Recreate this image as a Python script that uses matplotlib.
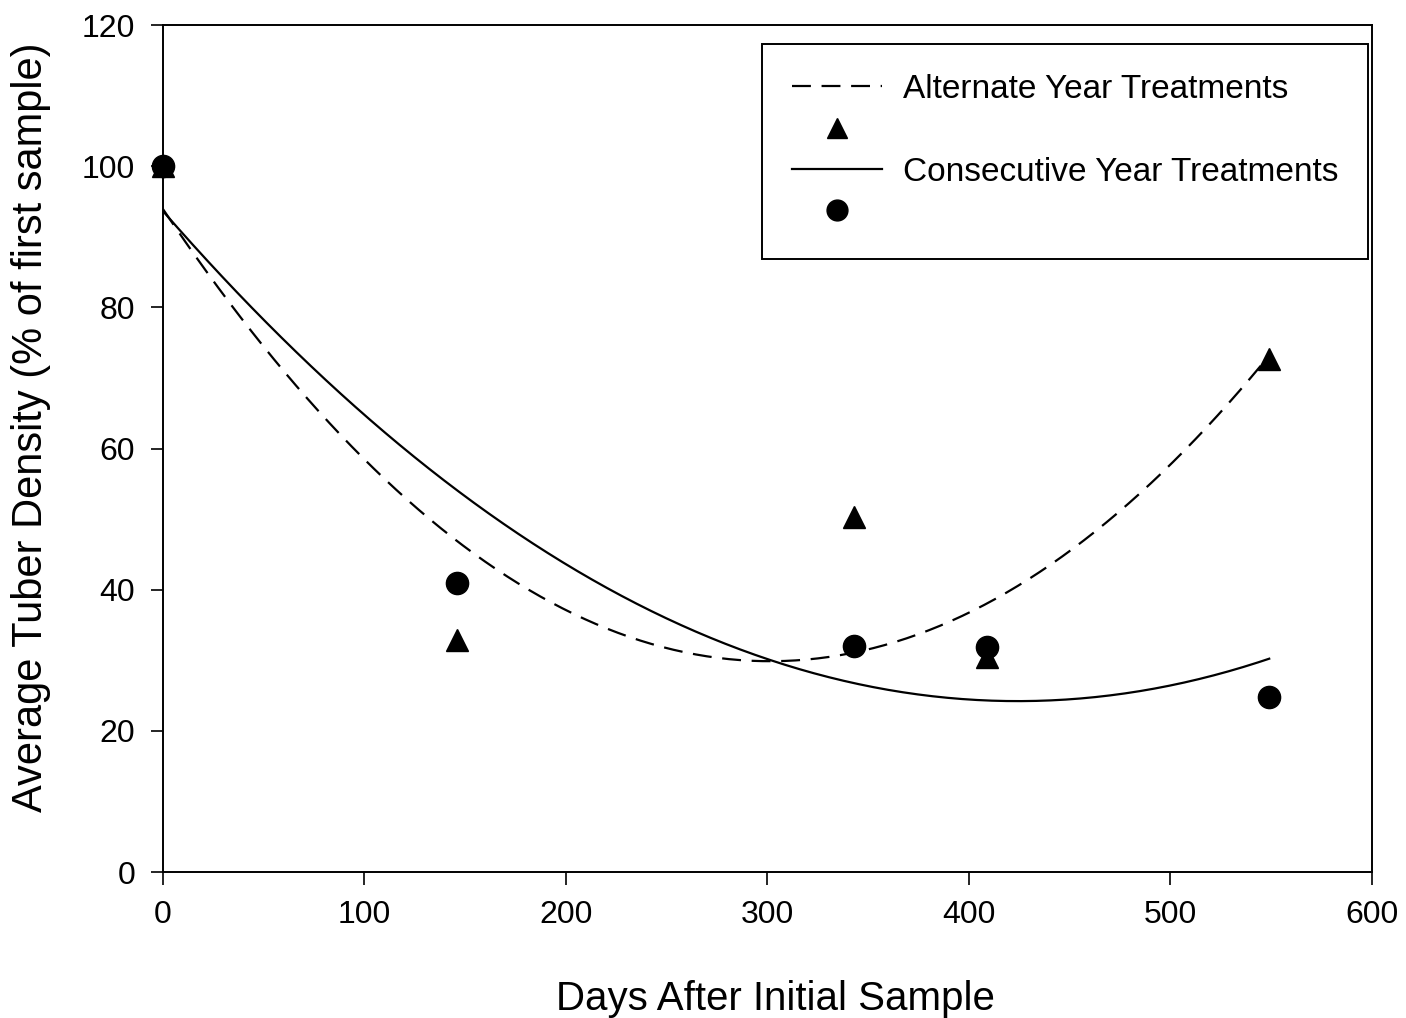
import numpy as np
import matplotlib
matplotlib.use("Agg")
import matplotlib.pyplot as plt
from matplotlib.lines import Line2D

plt.rcParams['font.family'] = ['Liberation Sans', 'DejaVu Sans']

# sampling days and mean densities (% of first sample)
days = [0, 146, 343, 409, 549]
alternate = [100, 32.9, 50.3, 30.5, 72.7]
consecutive = [100, 40.9, 32.0, 31.9, 24.8]

# points
alt_fit_x = [0, 117.6, 241.7, 291.3, 365.8, 458.4, 549]
alt_fit_y = [94.0, 53.9, 31.5, 30.0, 33.1, 48.0, 72.7]
con_fit_x = [0, 117.6, 302.9, 365.8, 431.9, 549]
con_fit_y = [94.0, 59.8, 30.0, 25.8, 24.4, 30.0]

xticks = [0, 100, 200, 300, 400, 500, 600]
yticks = [0, 20, 40, 60, 80, 100, 120]

fig = plt.figure(figsize=(14.06, 10.18), dpi=100)
ax = fig.add_axes([0.1159, 0.1434, 0.8599, 0.832])

xs = np.linspace(0, 549, 300)
alt_curve = np.polyval(np.polyfit(alt_fit_x, alt_fit_y, 2), xs)
con_curve = np.polyval(np.polyfit(con_fit_x, con_fit_y, 2), xs)

dash = (0, (8.5, 4.8))
ax.plot(xs, alt_curve, color='black', lw=1.6, linestyle=dash)
ax.plot(xs, con_curve, color='black', lw=1.6)
ax.plot(days, alternate, linestyle='none', marker='^', color='black', ms=16, clip_on=False, zorder=3)
ax.plot(days, consecutive, linestyle='none', marker='o', color='black', ms=16, clip_on=False, zorder=4)

ax.set_xlim(0, 600)
ax.set_ylim(0, 120)
ax.set_xticks(xticks)
ax.set_yticks(yticks)
ax.tick_params(direction='out', length=9, width=1.2, top=False, right=False, pad=11, labelsize=23)
for sp in ax.spines.values():
    sp.set_linewidth(1.4)

ax.set_xlabel("Days After Initial Sample", fontsize=29)
ax.set_ylabel("Average Tuber Density (% of first sample)", fontsize=30)
ax.xaxis.set_label_coords(0.507, -0.128)
ax.yaxis.set_label_coords(-0.093, 0.525)

handles = [
    Line2D([], [], color='black', lw=1.6, linestyle=dash),
    Line2D([], [], linestyle='none', marker='^', color='black', ms=15),
    Line2D([], [], color='black', lw=1.6),
    Line2D([], [], linestyle='none', marker='o', color='black', ms=15),
]
labels = ["Alternate Year Treatments", "", "Consecutive Year Treatments", ""]
leg = ax.legend(handles, labels, loc='upper left', bbox_to_anchor=(0.4955, 0.9776),
                borderaxespad=0, fontsize=24, handlelength=2.7, handletextpad=0.62,
                labelspacing=0.31, borderpad=0.9, fancybox=False, framealpha=1,
                edgecolor='black', numpoints=1)
leg.get_frame().set_linewidth(1.4)

fig.savefig("out.png", dpi=100)
